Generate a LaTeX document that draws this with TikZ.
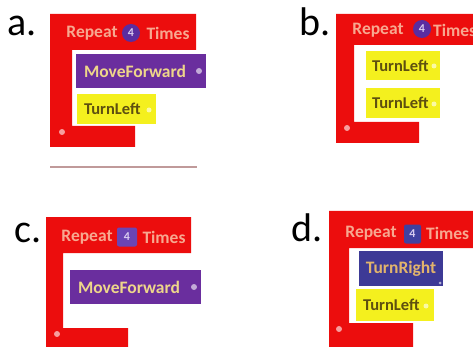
\documentclass[tikz,border=0pt]{standalone}
\usepackage{fontspec}
\setmainfont{Carlito}
\definecolor{blkred}{HTML}{EC0D0D}
\definecolor{hdrtext}{HTML}{F7A890}
\definecolor{numpurple}{HTML}{5A2DA0}
\definecolor{numviolet}{HTML}{6A45B5}
\definecolor{numblue}{HTML}{4040A0}
\definecolor{numtext}{HTML}{D8CCF0}
\definecolor{mvpurple}{HTML}{6A2E9E}
\definecolor{mftext}{HTML}{EED68A}
\definecolor{tlyellow}{HTML}{F4F01E}
\definecolor{tltext}{HTML}{5E5010}
\definecolor{trblue}{HTML}{3D3A96}
\definecolor{trtext}{HTML}{E2B46C}
\definecolor{linegray}{HTML}{C09A9A}
\begin{document}
\begin{tikzpicture}[x=1pt,y=-1pt,
  hdr/.style={font=\bfseries\fontsize{17.5}{17.5}\selectfont, text=hdrtext, inner sep=0pt},
  cmd/.style={font=\bfseries\fontsize{16.5}{16.5}\selectfont, inner sep=0pt, anchor=west},
  bigcmd/.style={cmd, font=\bfseries\fontsize{17.5}{17.5}\selectfont},
  cmdbox/.style={rectangle, draw=none, inner sep=0pt},
  numcirc/.style={circle, fill=numpurple, minimum size=18pt, inner sep=0pt,
    text=numtext, font=\bfseries\fontsize{12}{12}\selectfont},
  numsq/.style={rectangle, rounded corners=2pt, minimum width=20pt, minimum height=19pt,
    inner sep=0pt, text=numtext, font=\bfseries\fontsize{12}{12}\selectfont},
  lbl/.style={font=\fontsize{40}{40}\selectfont, anchor=base west, inner sep=0pt},
  icon/.style={circle, fill=white, fill opacity=0.6, minimum size=6pt, inner sep=0pt}]
\useasboundingbox (0,0) rectangle (473,347);
\clip (0,0) rectangle (473,347);

% ---------- a ----------
\node[lbl] (la) at (7,36) {a.};
\fill[blkred] (50,14) -- (196,14) -- (196,50) -- (72,50) -- (72,126) -- (135,126)
  -- (135,147) -- (50,147) -- cycle;
\node[hdr] (a-rep) at (92,33) {Repeat};
\node[numcirc] (a-n) at (131,33) {4};
\node[hdr] (a-tim) at (168,33) {Times};
\node[cmdbox, fill=mvpurple, minimum width=130pt, minimum height=34pt] (a-mf) at (141,71) {};
\node[bigcmd, text=mftext] (a-mft) at ([xshift=8pt]a-mf.west) {MoveForward};
\node[icon] (a-mfi) at (199,71) {};
\node[cmdbox, fill=tlyellow, minimum width=79pt, minimum height=30pt] (a-tl) at (116.5,109) {};
\node[cmd, text=tltext] (a-tlt) at ([xshift=7pt]a-tl.west) {TurnLeft};
\node[icon, minimum size=5pt] (a-tli) at (149,110) {};
\node[icon] (a-ri) at (62,132) {};
\draw[line width=2pt, linegray] (50,167) -- (197,167);

% ---------- b ----------
\node[lbl] (lb) at (299,36) {b.};
\fill[blkred] (336,14) -- (480,14) -- (480,45) -- (354,45) -- (354,122) -- (419,122)
  -- (419,143) -- (336,143) -- cycle;
\node[hdr] (b-rep) at (378,30) {Repeat};
\node[numcirc] (b-n) at (422,29) {4};
\node[hdr, anchor=west] (b-tim) at (433,30) {Times};
\node[cmdbox, fill=tlyellow, minimum width=74pt, minimum height=29pt] (b-tl1) at (403,65.5) {};
\node[cmd, text=tltext] (b-tl1t) at ([xshift=6pt]b-tl1.west) {TurnLeft};
\node[icon, minimum size=5pt] (b-tl1i) at (434,66) {};
\node[cmdbox, fill=tlyellow, minimum width=74pt, minimum height=30pt] (b-tl2) at (403,103) {};
\node[cmd, text=tltext] (b-tl2t) at ([xshift=6pt]b-tl2.west) {TurnLeft};
\node[icon, minimum size=5pt] (b-tl2i) at (434,104) {};
\node[icon] (b-ri) at (347,128) {};

% ---------- c ----------
\node[lbl] (lc) at (14,242) {c.};
\fill[blkred] (46,217) -- (191,217) -- (191,253) -- (63,253) -- (63,328) -- (128,328)
  -- (128,350) -- (46,350) -- cycle;
\node[hdr] (c-rep) at (87,237) {Repeat};
\node[numsq, fill=numviolet] (c-n) at (127,237) {4};
\node[hdr] (c-tim) at (164,237) {Times};
\node[cmdbox, fill=mvpurple, minimum width=131pt, minimum height=34pt] (c-mf) at (135.5,287) {};
\node[bigcmd, text=mftext] (c-mft) at ([xshift=8pt]c-mf.west) {MoveForward};
\node[icon] (c-mfi) at (194,287) {};
\node[icon] (c-ri) at (57,334) {};

% ---------- d ----------
\node[lbl] (ld) at (291,241) {d.};
\fill[blkred] (329,211) -- (480,211) -- (480,248) -- (349,248) -- (349,323) -- (413,323)
  -- (413,350) -- (329,350) -- cycle;
\node[hdr] (d-rep) at (371,233) {Repeat};
\node[numsq, fill=numblue, minimum width=17pt] (d-n) at (412.5,234) {4};
\node[hdr, anchor=west] (d-tim) at (426,233) {Times};
\node[cmdbox, fill=trblue, minimum width=84pt, minimum height=35pt] (d-tr) at (401,268.5) {};
\node[bigcmd, anchor=center, text=trtext] (d-trt) at (d-tr) {TurnRight};
\node[icon, minimum size=3pt] (d-tri) at (440,283) {};
\node[cmdbox, fill=tlyellow, minimum width=78pt, minimum height=32pt] (d-tl) at (395,305) {};
\node[cmd, text=tltext] (d-tlt) at ([xshift=7pt]d-tl.west) {TurnLeft};
\node[icon, minimum size=5pt] (d-tli) at (426,306) {};
\node[icon] (d-ri) at (339,329) {};
\end{tikzpicture}
\end{document}
